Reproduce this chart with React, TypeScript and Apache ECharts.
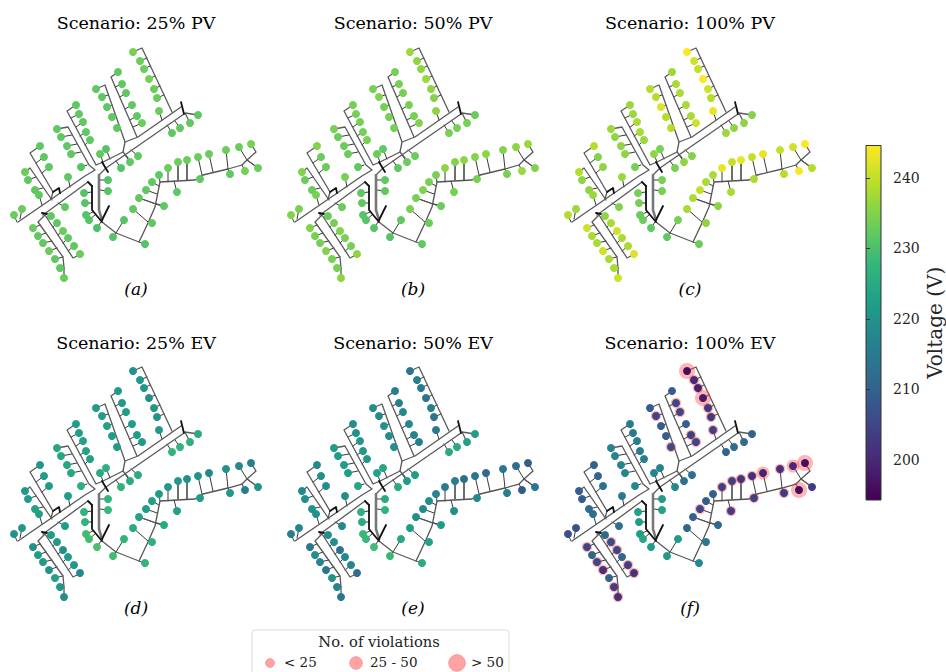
import React, { useEffect, useRef } from "react";
import * as echarts from "echarts";

const FONT = "DejaVu Serif";

// Node positions of the feeder (same for all six panels, in panel units)
const nodeX = [133,140,144,149,154,157,159,118,122,126,132,137,142,117,112,107,102,96,76,79,83,86,90,57,61,67,71,81,40,44,49,25,28,35,39,68,65,22,14,51,57,63,68,74,80,33,38,43,49,55,60,64,106,100,121,130,138,172,180,190,198,108,108,84,85,86,89,97,124,113,145,152,133,139,164,146,152,159,168,178,187,177,198,209,200,226,230,239,251,245,258];
const nodeY = [52,61,69,79,89,98,111,72,84,93,105,116,123,128,117,107,97,89,105,114,122,132,140,129,137,146,154,167,146,157,167,172,180,190,195,177,207,209,215,216,223,231,238,246,254,228,236,243,251,259,268,278,149,154,168,162,156,133,128,123,115,180,191,193,203,215,220,228,220,237,244,223,209,198,206,190,182,175,168,162,160,192,157,154,179,150,174,147,144,171,168];

// Voltages per scenario, node by node
const pv25 = [234,233,233,234,233,233,233,232,232,232,232,232,233,232,232,232,232,232,232,232,232,232,232,232,232,232,232,231,232,232,232,233,232,232,232,232,232,233,233,232,232,233,232,232,233,233,232,232,233,232,232,233,231,232,231,232,232,232,232,232,232,231,231,231,231,231,231,230,231,231,231,232,232,232,232,232,232,232,233,233,233,232,233,233,232,233,232,233,234,234,233];
const pv50 = [237,236,236,237,236,235,236,234,234,234,234,234,235,234,234,234,235,234,234,234,234,234,234,234,233,233,233,232,235,233,233,235,233,233,234,234,233,234,235,233,234,235,234,234,236,235,234,234,235,234,234,236,232,233,232,233,233,234,234,234,233,232,232,232,232,231,231,231,232,231,232,233,234,234,233,235,234,234,236,235,236,234,235,236,234,235,234,236,237,237,235];
const pv100 = [244.5,241,240,244.5,241,239,243,237,238,238,238,238,241,239,239,242,239,239,237,237,238,238,237,237,236,236,236,234,239,235,236,239,236,236,237,237,235,237,239,236,238,241,238,238,242,241,238,238,241,238,238,241,234,236,234,236,235,237,236,236,235,234,234,234,234,233,233,232,234,232,233,236,238,238,236,240,238,238,243,240,243,238,240,243,238,240,239,241,244.5,244.5,239];
const ev25 = [220,221,221,219,221,220,221,221,221,222,222,222,221,222,222,223,222,222,222,222,223,223,223,224,224,224,224,226,221,222,222,221,222,223,223,222,222,221,220,222,222,219,222,221,218,220,222,221,220,223,221,219,226,225,227,225,225,227,227,226,225,227,228,227,227,229,229,230,227,229,227,226,225,223,225,222,223,222,221,221,219,223,220,218,222,220,221,218,216,216,220];
const ev50 = [214,216,215,213,216,214,215,216,216,218,218,217,216,219,219,220,218,219,219,219,221,221,221,222,222,222,222,224,218,219,219,218,219,220,220,219,218,217,216,219,219,213,218,217,212,214,219,217,214,220,217,214,224,223,225,222,222,225,225,223,222,225,227,226,225,228,228,229,224,228,225,223,222,219,222,218,219,217,215,216,212,219,214,211,218,214,216,212,209,208,214];
const ev100 = [196,200,199,198,203,203,204,209,205,205,209,204,205,206,209,209,205,209,215,215,216,216,216,217,217,217,217,218,210,210,213,209,209,212,213,215,213,207,207,211,206,205,211,204,202,205,210,205,201,210,204,201,217,217,218,213,213,210,212,212,210,222,223,223,222,222,224,222,222,221,218,214,211,210,211,205,209,209,204,204,202,204,201,199,204,201,203,200,196,196,203];

// Violation classes for the 100% EV panel (node numbers, counted from 1)
const violationsLow = [2,3,5,6,7,9,10,12,13,14,17,41,42,44,45,46,48,49,51,52,76,79,80,81,82,83,85,86,87];
const violationsMid = [84,88];
const violationsHigh = [1,4,89,90];

// Service drops: [node number, junction x, junction y]
const drops = [
  [2,147,58],[3,150,66],[4,155,76],[5,160,86],[6,164,95],[7,162,120],
  [9,115,87],[10,120,97],[11,125,109],[12,130,120],[13,133,127],
  [17,108,95],[16,112,105],[15,115,115],[14,119,126],
  [20,71,118],[21,76,127],[22,80,136],[23,85,145],
  [25,72,135],[26,77,144],[27,81,152],[28,87,165],
  [30,36,163],[31,42,173],[33,36,177],[34,43,188],[35,42,205],
  [36,70,187],[37,58,203],[38,20,219],[39,17,222],
  [40,47,217],[41,53,227],[42,58,235],[43,63,243],[44,68,251],
  [46,40,225],[47,46,233],[48,52,241],[49,57,248],[50,63,257],[51,63,265],
  [53,110,159],[54,103,162],[55,116,161],[56,125,155],[57,131,150],
  [58,167,125],[59,175,121],
  [62,100,180],[63,100,190],[64,92,192],[65,92,203],[66,93,212],[67,95,215],[68,101,222],
  [69,116,233],[70,116,233],[72,148,222],[73,148,222],
  [75,156,204],[74,156,204],[76,157,194],[77,159,186],[78,160,182],
  [79,168,182],[80,178,180],[81,187,180],[82,174,181],[83,202,175],[84,213,172],[85,203,176],
  [86,228,169],[87,228,169],[88,247,160],[90,242,165],[91,247,160],
];

// Feeder sections, light grey
const mains: number[][][] = [
  [[133,52],[142,48],[172,112]],
  [[118,72],[111,77],[137,137]],
  [[96,89],[105,85],[125,142]],
  [[76,105],[67,111],[96,165],[103,162],[123,152],[125,142],[138,137],[181,107]],
  [[57,129],[68,127],[89,165],[95,170],[85,176],[18,222]],
  [[184,114],[106,168],[99,175]],
  [[43,215],[88,182]],
  [[40,146],[30,153],[53,192],[51,199]],
  [[25,172],[30,168],[52,200]],
  [[81,254],[73,258],[45,215],[38,222],[63,257],[64,268]],
  [[123,152],[128,158]],
  [[198,115],[185,113],[190,123]],
  [[102,222],[116,233],[139,242],[145,244]],
];
// Medium weight sections
const spurs: number[][][] = [
  [[139,242],[148,223],[155,207],[160,182],[195,180],[203,175],[228,169],[242,165],[247,160],[256,152],[251,144]],
  [[247,160],[258,168]],
  [[139,198],[156,204],[164,206]],
  [[64,268],[64,278]],
  [[187,160],[187,180]],
  [[178,162],[178,180]],
];
// Heavy sections near the substation
const trunks: number[][][] = [
  [[102,162],[108,172]],
  [[92,186],[92,210],[102,222]],
  [[88,182],[92,186]],
  [[102,220],[109,206]],
  [[181,102],[184,114]],
  [[53,192],[59,188],[60,193]],
  [[42,213],[47,214]],
];
// Wide grey conductor
const bus: number[][][] = [
  [[99,175],[99,210],[102,220]],
];

const titles = ["Scenario: 25% PV","Scenario: 50% PV","Scenario: 100% PV","Scenario: 25% EV","Scenario: 50% EV","Scenario: 100% EV"];
const panelLabels = ["(a)","(b)","(c)","(d)","(e)","(f)"];
const scenarios = [pv25,pv50,pv100,ev25,ev50,ev100];
const colorTicks = [200,210,220,230,240];
const legendTitle = "No. of violations";
const legendLabels = ["< 25","25 - 50","> 50"];
const viridis = ["#440154","#482878","#3e4989","#31688e","#26828e","#1f9e89","#35b779","#6ece58","#b5de2b","#fde725"];

export default function App() {
  const ref = useRef<HTMLDivElement>(null);
  useEffect(() => {
    document.body.style.margin = "0";
    const chart = echarts.init(ref.current!, undefined, { renderer: "svg" });
    const grids: any[] = [], xAxis: any[] = [], yAxis: any[] = [], series: any[] = [], title: any[] = [];
    const scatterIdx: number[] = [];
    const dropLines = drops.map(([n, jx, jy]) => [[nodeX[n - 1], nodeY[n - 1]], [jx, jy]]);
    const lineGroups: [number[][][], string, number][] = [
      [[...dropLines], "#3a3a3a", 1],
      [mains, "#5a5a5a", 1.3],
      [spurs, "#555555", 1.3],
      [bus, "#777777", 2.6],
      [trunks, "#111111", 1.8],
    ];
    const centers = [136, 413, 690];
    scenarios.forEach((values, i) => {
      const col = i % 3, row = Math.floor(i / 3);
      grids.push({ left: 277 * col, top: 319 * row, width: 277, height: 300, show: false });
      xAxis.push({ gridIndex: i, type: "value", min: 0, max: 277, show: false });
      yAxis.push({ gridIndex: i, type: "value", min: 0, max: 300, inverse: true, show: false });
      title.push({ text: titles[i], left: centers[col], top: 14 + 320 * row, padding: 0, textAlign: "center",
        textStyle: { fontFamily: FONT, fontSize: 17.5, fontWeight: "normal", color: "#000" } });
      title.push({ text: panelLabels[i], left: centers[col], top: 280 + 319 * row, padding: 0, textAlign: "center",
        textStyle: { fontFamily: FONT, fontSize: 17, fontStyle: "italic", fontWeight: "normal", color: "#000" } });
      lineGroups.forEach(([group, color, width]) => {
        series.push({ type: "lines", coordinateSystem: "cartesian2d", xAxisIndex: i, yAxisIndex: i, polyline: true, silent: true, z: 2,
          lineStyle: { color, width, opacity: 1, cap: "round", join: "round" },
          data: group.map((coords) => ({ coords })) });
      });
      if (i === 5) {
        ([[violationsLow, 10.5], [violationsMid, 13], [violationsHigh, 16]] as [number[], number][]).forEach(([list, size]) => {
          series.push({ type: "scatter", xAxisIndex: i, yAxisIndex: i, symbolSize: size, silent: true, z: 3,
            itemStyle: { color: "#ff3c3c", opacity: 0.38 },
            data: list.map((n) => [nodeX[n - 1], nodeY[n - 1]]) });
        });
      }
      scatterIdx.push(series.length);
      series.push({ type: "scatter", xAxisIndex: i, yAxisIndex: i, symbolSize: 8, silent: true, z: 4,
        itemStyle: { opacity: 1 },
        data: values.map((v, k) => [nodeX[k], nodeY[k], v]) });
    });
    // colour bar
    grids.push({ left: 866, top: 145.5, width: 17, height: 354.5, show: true, borderColor: "#333", borderWidth: 1,
      backgroundColor: new echarts.graphic.LinearGradient(0, 1, 0, 0, viridis.map((color, k) => ({ offset: k / 9, color }))) });
    xAxis.push({ gridIndex: 6, type: "value", min: 0, max: 1, show: false });
    yAxis.push({ gridIndex: 6, type: "value", min: 194.3, max: 244.6, position: "right", splitLine: { show: false },
      axisLine: { show: false },
      axisTick: { show: true, length: 4, customValues: colorTicks, lineStyle: { color: "#333" } },
      axisLabel: { customValues: colorTicks, margin: 12, fontFamily: FONT, fontSize: 14, color: "#262626" },
      name: "Voltage (V)", nameLocation: "middle", nameRotate: 90, nameGap: 44,
      nameTextStyle: { fontFamily: FONT, fontSize: 20, color: "#262626" } });
    series.push({ type: "scatter", xAxisIndex: 6, yAxisIndex: 6, data: [] });

    const legendY = 663;
    const graphic = [
      { type: "rect", shape: { x: 252, y: 630, width: 257, height: 60, r: 3 }, style: { fill: "#fff", stroke: "#dcdcdc", lineWidth: 1 } },
      { type: "text", x: 379, y: 641, style: { text: legendTitle, fill: "#222", font: `14.7px "${FONT}"`, align: "center", verticalAlign: "middle" } },
      ...[[270, 4.3], [356, 6.2], [457, 8.2]].map(([cx, r]) => ({
        type: "circle", shape: { cx, cy: legendY, r }, style: { fill: "#ffa3a3", stroke: "#ff9090", lineWidth: 1 } })),
      ...[284, 370, 471].map((x, k) => ({
        type: "text", x, y: 662, style: { text: legendLabels[k], fill: "#222", font: `13.5px "${FONT}"`, align: "left", verticalAlign: "middle" } })),
    ];

    chart.setOption({
      animation: false,
      backgroundColor: "#fff",
      title, grid: grids, xAxis, yAxis, series, graphic,
      visualMap: { type: "continuous", show: false, seriesIndex: scatterIdx, dimension: 2, min: 194.3, max: 244.6, inRange: { color: viridis } },
    });
    return () => chart.dispose();
  }, []);
  return <div ref={ref} style={{ position: "absolute", left: 0, top: 0, width: 946, height: 672, overflow: "hidden" }} />;
}
